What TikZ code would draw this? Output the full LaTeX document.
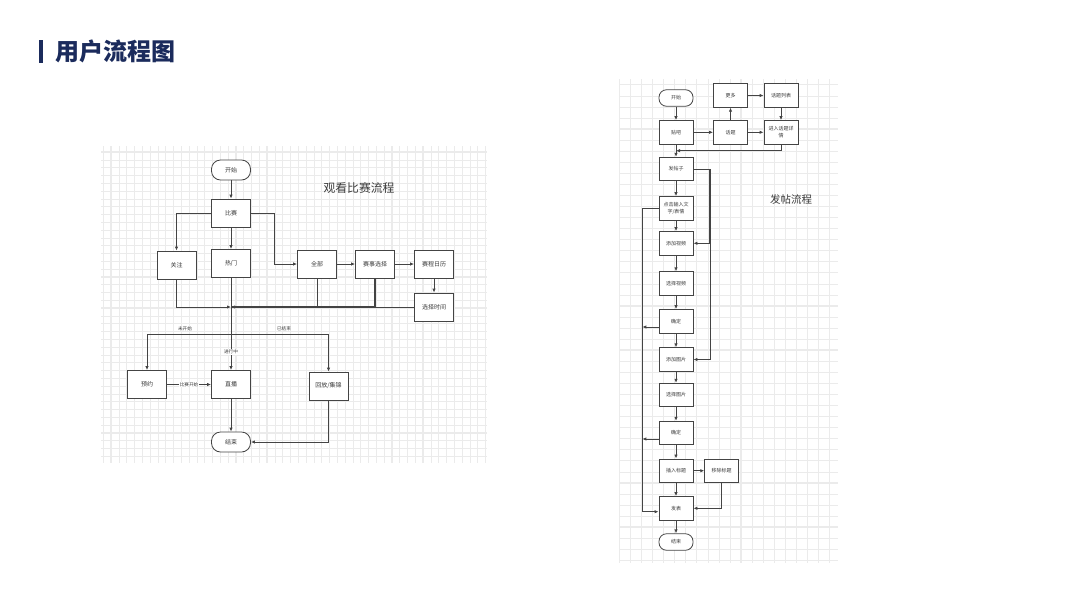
\documentclass[tikz,border=0pt]{standalone}
\usepackage{fontspec}
\setmainfont{Noto Sans CJK SC}
\usetikzlibrary{arrows.meta,positioning,calc}
\definecolor{navy}{HTML}{1B2B5C}
\definecolor{linec}{HTML}{444444}
\definecolor{txtc}{HTML}{3A3A3A}
\definecolor{gridc}{HTML}{EBEBEB}

\begin{document}
\begin{tikzpicture}[x=1pt, y=-1pt,
  box/.style={rectangle, draw=linec, fill=white, line width=0.8pt, minimum width=39, minimum height=28, inner sep=1pt, align=center, text=txtc, font=\fontsize{6}{7.5}\selectfont},
  term/.style={box, minimum height=20, rounded corners=9pt},
  rbox/.style={box, minimum width=34, minimum height=23.5, font=\fontsize{5}{6.5}\selectfont},
  rterm/.style={rbox, minimum height=16.5, rounded corners=7.5pt},
  lbl/.style={inner sep=0.8pt, text=txtc, font=\fontsize{4.6}{5.5}\selectfont},
  arr/.style={-{Latex[length=4pt, width=3.4pt]}, line width=0.8pt, linec},
  ln/.style={line width=0.8pt, linec},
  gmin/.style={gridc, line width=0.5pt},
  gmaj/.style={gridc, line width=1.3pt}
]
  \useasboundingbox (0,0) rectangle (1067,600);

  % page title
  \node[fill=navy, minimum width=4.3, minimum height=23.3, inner sep=0] (bar) at (41.2,51.7) {};
  \node[anchor=west, inner sep=0, text=navy, font=\fontsize{24}{28}\selectfont\bfseries] (title) at (55,51.5) {用户流程图};

  % grid behind the match flow
  \foreach \x in {103.3,111.1,...,486} \draw[gmin] (\x,146) -- (\x,463);
  \foreach \y in {152.1,159.9,...,463} \draw[gmin] (101,\y) -- (487,\y);
  \foreach \x in {111.1,142.3,...,486} \draw[gmaj] (\x,146) -- (\x,463);
  \foreach \y in {152.1,183.3,...,463} \draw[gmaj] (101,\y) -- (487,\y);

  % grid behind the posting flow
  \foreach \x in {619.1,630.18,...,838} \draw[gmin] (\x,79) -- (\x,563);
  \foreach \y in {84.7,95.76,...,563} \draw[gmin] (619,\y) -- (838,\y);
  \foreach \x in {652.4,696.7,...,838} \draw[gmaj] (\x,79) -- (\x,563);
  \foreach \y in {84.7,128.94,...,563} \draw[gmaj] (619,\y) -- (838,\y);

  % --- match flow ---
  \node[text=txtc, font=\fontsize{11.8}{14}\selectfont] (ltitle) at (359,187.5) {观看比赛流程};

  \node[term] (ls) at (231,170) {开始};
  \node[box] (lbs) at (231,213) {比赛};
  \node[box] (lgz) at (176.5,265) {关注};
  \node[box] (lrm) at (231,263.5) {热门};
  \node[box] (lqb) at (317,264) {全部};
  \node[box] (lss) at (375,264) {赛事选择};
  \node[box] (lrl) at (434,264) {赛程日历};
  \node[box] (lsj) at (434,307) {选择时间};
  \node[box] (lyy) at (147,384.5) {预约};
  \node[box] (lzb) at (231,384.5) {直播};
  \node[box] (lhf) at (328.5,386) {回放/集锦};
  \node[term] (lend) at (231,442) {结束};
  \coordinate (lm) at (231,307);
  \coordinate (lsp) at (231,334);

  \draw[arr] (ls) -- (lbs);
  \draw[arr] (lbs.west) -| (lgz.north);
  \draw[arr] (lbs) -- (lrm);
  \draw[arr] (lbs.east) -- ++(23.3,0) |- (lqb.west);
  \draw[arr] (lqb) -- (lss);
  \draw[arr] (lss) -- (lrl);
  \draw[arr] (lrl) -- (lsj);
  \draw[arr] (lgz.south) |- (lm);
  \draw[ln] (lqb.south) |- (lm);
  \draw[ln, line width=1.2pt] (lss.south) |- (lm);
  \draw[arr] (lsj) -- (lm);
  \draw[ln] (lrm) -- (lsp);
  \draw[arr] (lsp) -| (lyy.north);
  \draw[arr] (lsp) -| (lhf.north);
  \draw[arr] (lsp) -- node[lbl, fill=white, pos=0.5] {进行中} (lzb);
  \node[lbl] (lwks) at (185,329) {未开始};
  \node[lbl] (lyjs) at (284,329) {已结束};
  \draw[arr] (lyy) -- node[lbl, fill=white] {比赛开始} (lzb);
  \draw[arr] (lzb) -- (lend);
  \draw[arr] (lhf.south) |- (lend.east);

  % --- posting flow ---
  \node[text=txtc, font=\fontsize{10.5}{12}\selectfont] (rtitle) at (791,199) {发帖流程};

  \node[rterm] (rs) at (676,98) {开始};
  \node[rbox] (rgd) at (730.5,95.5) {更多};
  \node[rbox] (rlb) at (781,95.5) {话题列表};
  \node[rbox] (rtb) at (676,132.3) {贴吧};
  \node[rbox] (rht) at (730.5,132.3) {话题};
  \node[rbox] (rxq) at (781,132.3) {进入话题详\\情};
  \node[rbox] (rft) at (676,169) {发帖子};
  \node[rbox] (rdj) at (676,208.3) {点击输入文\\字/表情};
  \node[rbox] (rsp) at (676,243.3) {添加视频};
  \node[rbox] (rxsp) at (676,283.5) {选择视频};
  \node[rbox] (rqd1) at (676,321.3) {确定};
  \node[rbox] (rtp) at (676,359.5) {添加图片};
  \node[rbox] (rxtp) at (676,395) {选择图片};
  \node[rbox] (rqd2) at (676,433) {确定};
  \node[rbox] (rbt) at (676,470.7) {插入标题};
  \node[rbox] (ryc) at (721.7,470.7) {移除标题};
  \node[rbox] (rfb) at (676,508.3) {发表};
  \node[rterm] (rend) at (676,542) {结束};
  \coordinate (rjn) at (676,150.7);
  \coordinate (rl1) at (642.3,327);
  \coordinate (rl2) at (642.3,439);

  \draw[arr] (rs) -- (rtb);
  \draw[arr] (rtb) -- (rht);
  \draw[arr] (rht) -- (rgd);
  \draw[arr] (rgd) -- (rlb);
  \draw[arr] (rlb) -- (rxq);
  \draw[arr] (rht) -- (rxq);
  \draw[arr] (rxq.south) |- (rjn);
  \draw[arr] (rtb) -- (rft);
  \draw[arr] (rft) -- (rdj);
  \draw[arr] (rdj) -- (rsp);
  \draw[arr] (rsp) -- (rxsp);
  \draw[arr] (rxsp) -- (rqd1);
  \draw[arr] (rqd1) -- (rtp);
  \draw[arr] (rtp) -- (rxtp);
  \draw[arr] (rxtp) -- (rqd2);
  \draw[arr] (rqd2) -- (rbt);
  \draw[arr] (rbt) -- (rfb);
  \draw[arr] (rfb) -- (rend);
  \draw[arr] (rft.east) -- ++(15.5,0) |- (rsp.east);
  \draw[arr] (rft.east) -- ++(16.8,0) |- (rtp.east);
  \draw[arr] (rdj.west) -- ++(-16.7,0) |- ([yshift=-3.4pt]rfb.west);
  \draw[arr] (rqd1.west |- rl1) -- (rl1);
  \draw[arr] (rqd2.west |- rl2) -- (rl2);
  \draw[arr] (rbt) -- (ryc);
  \draw[arr] (ryc.south) |- (rfb.east);
\end{tikzpicture}
\end{document}
